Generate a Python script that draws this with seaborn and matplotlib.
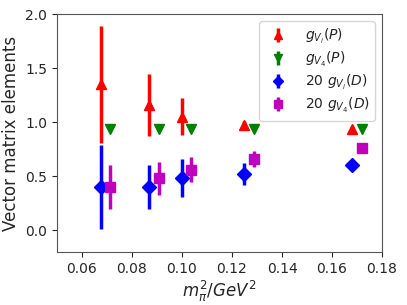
import matplotlib
matplotlib.use("Agg")
import matplotlib.pyplot as plt
import seaborn as sns
import numpy as np
import pandas as pd

# data
mpi2 = [0.0675, 0.0868, 0.0999, 0.1248, 0.1679]
mpi2_shift = [0.0712, 0.0909, 0.1037, 0.1288, 0.1719]
gVi_P = [1.35, 1.16, 1.05, 0.97, 0.94]
gVi_P_err = [0.54, 0.29, 0.17, 0.04, 0.02]
gV4_P = [0.935, 0.935, 0.935, 0.935, 0.935]
gV4_P_err = [0.01, 0.01, 0.01, 0.01, 0.01]
gVi_D = [0.40, 0.40, 0.48, 0.52, 0.60]
gVi_D_err = [0.39, 0.20, 0.175, 0.10, 0.02]
gV4_D = [0.40, 0.48, 0.56, 0.66, 0.76]
gV4_D_err = [0.20, 0.155, 0.115, 0.075, 0.04]

labels = [r"$g_{V_i}(P)$", r"$g_{V_4}(P)$", r"$20\ g_{V_i}(D)$", r"$20\ g_{V_4}(D)$"]
colors = ["red", "green", "blue", "m"]
markers = ["^", "v", "D", "s"]

sns.set_style("ticks")
plt.rcParams["font.family"] = ["DejaVu Sans"]

fig = plt.figure(figsize=(4.07, 3.05), dpi=100)
ax = fig.add_axes([0.14, 0.174, 0.7986, 0.78])

series = [
    (mpi2, gVi_P, gVi_P_err),
    (mpi2_shift, gV4_P, gV4_P_err),
    (mpi2, gVi_D, gVi_D_err),
    (mpi2_shift, gV4_D, gV4_D_err),
]
for (x, y, e), lab, c, m in zip(series, labels, colors, markers):
    ms = 7.5 if m != "D" else 7
    ax.errorbar(x, y, yerr=e, fmt=m, color=c, ms=ms,
                elinewidth=2.5, capsize=0, label=lab)
    df = pd.DataFrame({"x": x, "y": y})
    sns.scatterplot(data=df, x="x", y="y", marker=m, color=c,
                    s=ms * ms, edgecolor=c, linewidth=0,
                    ax=ax, legend=False, zorder=3)

ax.set_xlim(0.05, 0.18)
ax.set_ylim(-0.2, 2.0)
ax.set_xticks([0.06, 0.08, 0.10, 0.12, 0.14, 0.16, 0.18])
ax.set_xticklabels(["0.06", "0.08", "0.10", "0.12", "0.14", "0.16", "0.18"])
ax.set_yticks([0.0, 0.5, 1.0, 1.5, 2.0])
ax.tick_params(labelsize=10, direction="out", length=3.5, width=0.8)
for s in ax.spines.values():
    s.set_visible(True)
    s.set_color("#555555")
ax.set_xlabel(r"$m_\pi^2/GeV^2$", fontsize=12, labelpad=2)
ax.set_ylabel("Vector matrix elements", fontsize=12)
ax.legend(loc="upper right", fontsize=10, frameon=True, markerscale=0.8,
          handletextpad=0.9, labelspacing=0.3)

fig.savefig("out.png", dpi=100)
